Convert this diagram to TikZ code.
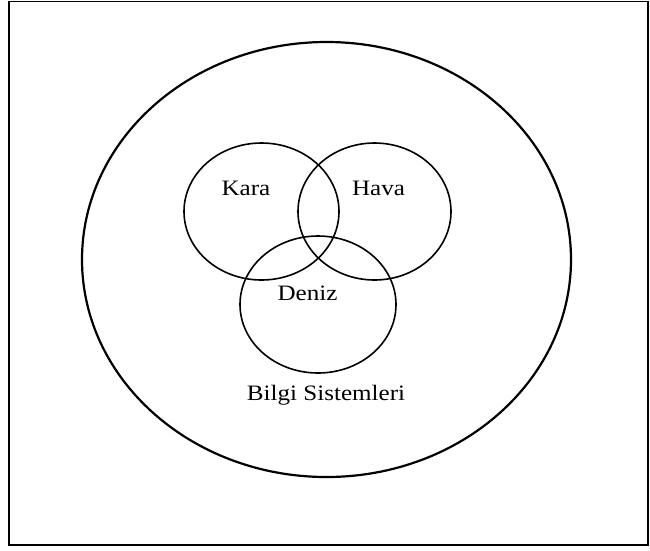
\documentclass[tikz,border=0pt]{standalone}
\usepackage{fontspec}
\setmainfont{Liberation Serif}[FakeStretch=1.14]
\usetikzlibrary{shapes.geometric}

\begin{document}
\begin{tikzpicture}[
  x=1pt, y=-1pt,
  set/.style={draw, ellipse, line width=1.6pt, inner sep=0pt},
  lbl/.style={font=\fontsize{22}{26}\selectfont, inner sep=0pt, anchor=base}
]
\useasboundingbox (0,0) rectangle (650,550);
\draw[line width=1.8pt] (9,1.5) rectangle (648,545);
\node[set, line width=2.2pt, minimum width=489pt, minimum height=435pt] (bilgi) at (326.5,259.5) {};
\node[set, minimum width=155pt, minimum height=137pt] (kara) at (261.5,211.5) {};
\node[set, minimum width=153pt, minimum height=137pt] (hava) at (374.5,211.5) {};
\node[set, minimum width=156pt, minimum height=137pt] (deniz) at (318,304.5) {};
\node[lbl] (karalbl) at (246,195) {Kara};
\node[lbl] (havalbl) at (378.5,195) {Hava};
\node[lbl] (denizlbl) at (307.5,300) {Deniz};
\node[lbl] (bilgilbl) at (326,400) {Bilgi Sistemleri};
\end{tikzpicture}
\end{document}
